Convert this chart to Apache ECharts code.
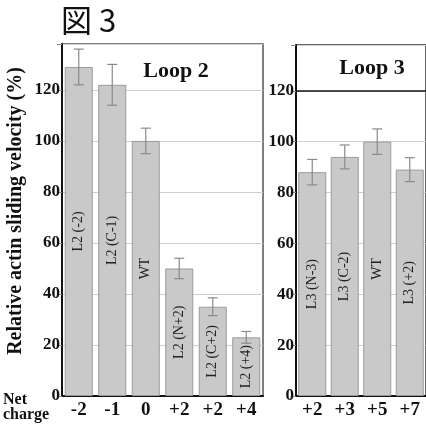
<!DOCTYPE html>
<html>
<head>
<meta charset="utf-8">
<script src="https://cdn.jsdelivr.net/npm/echarts@6/dist/echarts.min.js"></script>
<style>
  html, body { margin: 0; padding: 0; background: #fff; }
  #main { width: 426px; height: 432px; }
</style>
</head>
<body>
<div id="main"></div>
<script>
// Loop 2 panel
const loop2Charges = ['-2', '-1', '0', '+2', '+2', '+4'];
const loop2Names = ['L2 (-2)', 'L2 (C-1)', 'WT', 'L2 (N+2)', 'L2 (C+2)', 'L2 (+4)'];
const loop2Values = [129, 122, 100, 50, 35, 23];
const loop2Errors = [7, 8, 5, 4, 3.5, 2.3];

// Loop 3 panel
const loop3Charges = ['+2', '+3', '+5', '+7'];
const loop3Names = ['L3 (N-3)', 'L3 (C-2)', 'WT', 'L3 (+2)'];
const loop3Values = [88, 94, 100, 89];
const loop3Errors = [5, 4.7, 5, 4.7];

const yTicks = [0, 20, 40, 60, 80, 100, 120];

var chartDom = document.getElementById('main');
var myChart = echarts.init(chartDom);

const serif = '"Liberation Serif", "Times New Roman", serif';

const barStyle = {
  color: '#c9c9c9',
  borderColor: '#9a9a9a',
  borderWidth: 1
};

// error bars with small caps
const errorRender = function (params, api) {
  const x = api.value(0);
  const lo = api.coord([x, api.value(1)]);
  const hi = api.coord([x, api.value(2)]);
  const cap = 5;
  const style = { stroke: '#8a8a8a', lineWidth: 1.2 };
  return {
    type: 'group',
    children: [
      { type: 'line', shape: { x1: lo[0], y1: lo[1], x2: hi[0], y2: hi[1] }, style: style },
      { type: 'line', shape: { x1: lo[0] - cap, y1: lo[1], x2: lo[0] + cap, y2: lo[1] }, style: style },
      { type: 'line', shape: { x1: hi[0] - cap, y1: hi[1], x2: hi[0] + cap, y2: hi[1] }, style: style }
    ]
  };
};

const errData = (vals, errs) => vals.map((v, i) => [i, v - errs[i], v + errs[i]]);
const barData = (vals, names) => vals.map((v, i) => ({ value: v, name: names[i] }));

const yAxisBase = {
  type: 'value',
  min: 0,
  max: 138,
  interval: 20,
  axisLine: { show: true, lineStyle: { color: '#111', width: 2 } },
  axisTick: { show: true, inside: false, length: 5, lineStyle: { color: '#888' } },
  axisLabel: {
    fontFamily: serif,
    fontWeight: 'bold',
    fontSize: 17,
    color: '#111',
    margin: 2,
    formatter: function (v) { return yTicks.indexOf(v) >= 0 ? String(v) : ''; }
  },
  splitLine: { show: true, lineStyle: { color: '#cfcfcf', width: 1 } }
};

const xAxisBase = {
  type: 'category',
  axisLine: { show: true, lineStyle: { color: '#111', width: 2 } },
  axisTick: { show: false },
  axisLabel: {
    fontFamily: serif,
    fontWeight: 'bold',
    fontSize: 19,
    color: '#111',
    margin: 5,
    interval: 0
  }
};

const barLabel = {
  show: true,
  position: 'inside',
  rotate: 90,
  formatter: '{b}',
  fontFamily: serif,
  fontSize: 14,
  color: '#222'
};

var option = {
  animation: false,
  backgroundColor: '#fff',
  grid: [
    { left: 62, top: 44, width: 201, height: 352, show: true, borderColor: '#555', borderWidth: 1.5 },
    { left: 296, top: 45, width: 132, height: 351, show: true, borderColor: '#333', borderWidth: 1.5 }
  ],
  xAxis: [
    Object.assign({}, xAxisBase, { gridIndex: 0, data: loop2Charges }),
    Object.assign({}, xAxisBase, { gridIndex: 1, data: loop3Charges })
  ],
  yAxis: [
    Object.assign({}, yAxisBase, {
      gridIndex: 0,
      name: 'Relative actin sliding velocity (%)',
      nameLocation: 'middle',
      nameRotate: 90,
      nameGap: 36,
      nameTextStyle: { fontFamily: serif, fontWeight: 'bold', fontSize: 20, color: '#111', padding: [0, 0, 0, 18] }
    }),
    Object.assign({}, yAxisBase, { gridIndex: 1 })
  ],
  title: [
    {
      text: '図 3', left: 56, top: 0,
      textStyle: { fontFamily: '"Noto Sans CJK JP", sans-serif', fontWeight: 'normal', fontSize: 31, color: '#111' }
    },
    {
      text: 'Loop 2', left: 171, top: 55, textAlign: 'center',
      textStyle: { fontFamily: serif, fontWeight: 'bold', fontSize: 22, color: '#111' }
    },
    {
      text: 'Loop 3', left: 367, top: 52, textAlign: 'center',
      textStyle: { fontFamily: serif, fontWeight: 'bold', fontSize: 22, color: '#111' }
    }
  ],
  graphic: [
    {
      type: 'text', left: 3, top: 392,
      style: {
        text: 'Net\ncharge',
        font: 'bold 16px ' + serif,
        lineHeight: 15,
        fill: '#111'
      }
    }
  ],
  series: [
    {
      name: 'Loop 2', type: 'bar', xAxisIndex: 0, yAxisIndex: 0,
      data: barData(loop2Values, loop2Names),
      barWidth: 28,
      itemStyle: barStyle,
      label: barLabel
    },
    {
      name: 'Loop 2 err', type: 'custom', xAxisIndex: 0, yAxisIndex: 0,
      renderItem: errorRender,
      data: errData(loop2Values, loop2Errors),
      z: 3
    },
    {
      name: 'Loop 3', type: 'bar', xAxisIndex: 1, yAxisIndex: 1,
      data: barData(loop3Values, loop3Names),
      barWidth: 28,
      itemStyle: barStyle,
      label: barLabel,
      markLine: {
        silent: true,
        symbol: 'none',
        label: { show: false },
        lineStyle: { color: '#111', type: 'solid', width: 1.5 },
        data: [{ yAxis: 120 }]
      }
    },
    {
      name: 'Loop 3 err', type: 'custom', xAxisIndex: 1, yAxisIndex: 1,
      renderItem: errorRender,
      data: errData(loop3Values, loop3Errors),
      z: 3
    }
  ]
};

option && myChart.setOption(option);
</script>
</body>
</html>
